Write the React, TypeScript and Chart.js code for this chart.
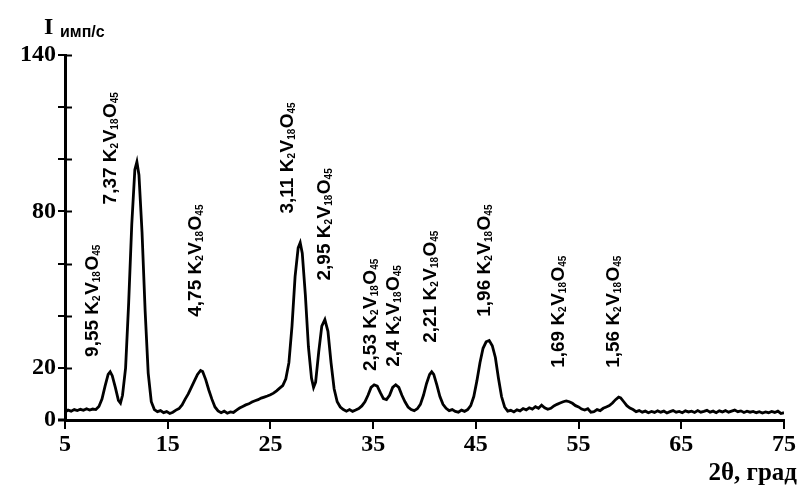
import React, { useEffect, useRef } from "react";
import { Chart, registerables } from "chart.js";

Chart.register(...registerables);

// 2θ, град
const twoTheta: number[] = [
  5.0, 5.3, 5.6, 5.9, 6.2, 6.5, 6.8, 7.1, 7.4, 7.7, 8.0, 8.3, 8.6, 8.9, 9.2, 9.4, 9.6, 9.9, 10.2, 10.4,
  10.6, 10.9, 11.2, 11.5, 11.8, 12.0, 12.2, 12.5, 12.8, 13.1, 13.4, 13.7, 14.0, 14.3, 14.6, 14.9, 15.2, 15.5, 15.8, 16.1,
  16.4, 16.7, 17.0, 17.3, 17.6, 17.9, 18.2, 18.4, 18.7, 19.0, 19.3, 19.6, 19.9, 20.2, 20.5, 20.8, 21.1, 21.4, 21.7, 22.0,
  22.3, 22.6, 22.9, 23.2, 23.5, 23.8, 24.1, 24.4, 24.7, 25.0, 25.3, 25.6, 25.9, 26.2, 26.5, 26.8, 27.1, 27.4, 27.7, 27.9,
  28.1, 28.4, 28.7, 29.0, 29.2, 29.4, 29.7, 30.0, 30.3, 30.6, 30.9, 31.2, 31.5, 31.8, 32.1, 32.4, 32.7, 33.0, 33.3, 33.6,
  33.9, 34.2, 34.5, 34.8, 35.1, 35.4, 35.7, 36.0, 36.3, 36.6, 36.9, 37.2, 37.5, 37.8, 38.1, 38.4, 38.7, 39.0, 39.3, 39.6,
  39.9, 40.2, 40.5, 40.7, 40.9, 41.2, 41.5, 41.8, 42.1, 42.4, 42.7, 43.0, 43.3, 43.6, 43.9, 44.2, 44.5, 44.8, 45.1, 45.4,
  45.7, 46.0, 46.3, 46.6, 46.9, 47.2, 47.5, 47.8, 48.1, 48.4, 48.7, 49.0, 49.3, 49.6, 49.9, 50.2, 50.5, 50.8, 51.1, 51.4,
  51.7, 52.0, 52.3, 52.6, 52.9, 53.2, 53.5, 53.8, 54.1, 54.4, 54.7, 55.0, 55.3, 55.6, 55.9, 56.2, 56.5, 56.8, 57.1, 57.4,
  57.7, 58.0, 58.3, 58.6, 58.9, 59.1, 59.4, 59.7, 60.0, 60.3, 60.6, 60.9, 61.2, 61.5, 61.8, 62.1, 62.4, 62.7, 63.0, 63.3,
  63.6, 63.9, 64.2, 64.5, 64.8, 65.1, 65.4, 65.7, 66.0, 66.3, 66.6, 66.9, 67.2, 67.5, 67.8, 68.1, 68.4, 68.7, 69.0, 69.3,
  69.6, 69.9, 70.2, 70.5, 70.8, 71.1, 71.4, 71.7, 72.0, 72.3, 72.6, 72.9, 73.2, 73.5, 73.8, 74.1, 74.4, 74.7, 75.0,
];

// I, имп/с
const intensity: number[] = [
  3.0, 3.8, 3.4, 4.0, 3.6, 4.1, 3.7, 4.3, 3.8, 4.2, 4.0, 5.2, 8.0, 13.0, 17.5, 18.5, 17.0, 12.5, 7.5, 6.5,
  9.5, 20, 45, 75, 96, 99, 94, 72, 42, 18, 7, 4.0, 3.2, 3.6, 2.8, 3.2, 2.5, 3.0, 3.8, 4.4,
  5.8, 8.0, 10.0, 12.5, 15.0, 17.5, 19.0, 18.6, 15.5, 11.5, 8.0, 5.0, 3.5, 2.8, 3.4, 2.6, 3.1, 2.9, 3.8, 4.6,
  5.2, 5.8, 6.2, 6.9, 7.4, 7.8, 8.4, 8.8, 9.2, 9.7, 10.3, 11.2, 12.2, 13.2, 15.8, 22, 36, 55, 66, 68,
  64, 48, 28, 16, 12.5, 14.5, 26, 36, 38.5, 34, 22, 12, 7, 5, 4, 3.4, 4.0, 3.3, 3.8, 4.4,
  5.4, 7.0, 9.5, 12.5, 13.5, 13.0, 10.5, 8.2, 7.8, 9.5, 12.5, 13.5, 12.5, 9.5, 7.0, 5.0, 4.0, 3.6, 4.3, 6.0,
  9.5, 14.0, 17.5, 18.5, 17.5, 13.5, 9.0, 6.0, 4.5, 3.6, 4.0, 3.3, 3.0, 3.8, 3.3, 4.0, 5.5, 9.0, 15.0, 22.0,
  27.5, 30.0, 30.5, 28.5, 24.0, 16.0, 9.0, 5.0, 3.4, 3.7, 3.1, 3.9, 3.5, 4.4, 3.9, 4.7, 4.2, 5.1, 4.5, 5.7,
  4.7, 4.1, 4.5, 5.4, 6.0, 6.5, 7.0, 7.3, 7.0, 6.4, 5.5, 5.0, 4.2, 3.8, 4.3, 3.0, 3.2, 4.0, 3.6, 4.5,
  5.0, 5.5, 6.5, 7.8, 8.8, 8.5, 7.0, 5.5, 4.6, 4.0, 3.2, 3.6, 3.0, 3.4, 2.8, 3.3, 2.9, 3.5, 3.0, 3.4,
  2.7, 3.2, 3.6, 3.0, 3.3, 2.8, 3.5, 3.1, 3.4, 2.9, 3.6, 3.0, 3.3, 3.7, 3.0, 3.4, 2.8, 3.5, 3.1, 3.6,
  3.0, 3.4, 3.8, 3.2, 3.5, 2.9, 3.4, 3.0, 3.3, 2.8, 3.2, 2.7, 3.1, 2.8, 3.3, 2.9, 3.4, 2.5, 2.8,
];

const xTickValues: number[] = [5, 15, 25, 35, 45, 55, 65, 75];
const yTickValues: number[] = [0, 20, 40, 60, 80, 100, 120, 140];
const yTickLabels: number[] = [0, 20, 80, 140];

// peak annotations: d-spacing, label x (2θ), label start (intensity)
const peakD: string[] = ["9,55", "7,37", "4,75", "3,11", "2,95", "2,53", "2,4", "2,21", "1,96", "1,69", "1,56"];
const peakLabelX: number[] = [7.7, 9.5, 17.7, 26.65, 30.3, 34.8, 37.05, 40.6, 45.9, 53.1, 58.4];
const peakLabelY: number[] = [24.2, 82.7, 39.6, 79.2, 53.5, 18.8, 20.4, 29.6, 39.6, 20, 20];

const SERIF = '"Liberation Serif", "Times New Roman", serif';
const NARROW = '"Liberation Sans Narrow", "Arial Narrow", "Liberation Sans", Arial, sans-serif';
const SANS = '"Liberation Sans", Arial, sans-serif';

const overlayPlugin = {
  id: "overlay",
  afterDraw(chart: any) {
    const ctx = chart.ctx as CanvasRenderingContext2D;
    const xs = chart.scales.x;
    const ys = chart.scales.y;
    const left = chart.chartArea.left;
    const bottom = chart.chartArea.bottom;
    ctx.save();
    ctx.strokeStyle = "#000";
    // inner halves of y ticks
    ctx.lineWidth = 2;
    yTickValues.forEach((v) => {
      const py = Math.round(ys.getPixelForValue(v)) + 0.5;
      if (v === 0) return;
      ctx.beginPath();
      ctx.moveTo(left, py);
      ctx.lineTo(left + 7, py);
      ctx.stroke();
    });
    // x axis extension to the left
    ctx.lineWidth = 3;
    ctx.beginPath();
    ctx.moveTo(left - 7, bottom);
    ctx.lineTo(left, bottom);
    ctx.stroke();

    // axis titles
    ctx.fillStyle = "#000";
    ctx.textBaseline = "alphabetic";
    ctx.textAlign = "left";
    ctx.font = `bold 24px ${SERIF}`;
    ctx.fillText("I", 44, 34);
    ctx.font = `bold 16px ${SANS}`;
    ctx.fillText("имп/с", 60, 37);
    ctx.textAlign = "right";
    ctx.font = `bold 25px ${SERIF}`;
    ctx.fillText("2θ, град", 797, 480);

    // peak labels (rotated)
    const fs = 19;
    const sub = 10;
    peakD.forEach((d, i) => {
      const px = xs.getPixelForValue(peakLabelX[i]);
      const py = ys.getPixelForValue(peakLabelY[i]);
      ctx.save();
      ctx.translate(px, py);
      ctx.rotate(-Math.PI / 2);
      ctx.textAlign = "left";
      ctx.textBaseline = "middle";
      const parts: [string, boolean][] = [
        [d + " K", false],
        ["2", true],
        ["V", false],
        ["18", true],
        ["O", false],
        ["45", true],
      ];
      let cx = 0;
      parts.forEach(([t, isSub]) => {
        ctx.font = isSub ? `bold ${sub}px ${NARROW}` : `bold ${fs}px ${NARROW}`;
        ctx.fillText(t, cx, isSub ? 4.5 : 0);
        cx += ctx.measureText(t).width + (isSub ? 0.5 : 0);
      });
      ctx.restore();
    });
    ctx.restore();
  },
};

export default function App() {
  const ref = useRef<HTMLCanvasElement | null>(null);
  useEffect(() => {
    document.body.style.margin = "0";
    if (!ref.current) return;
    const chart = new Chart(ref.current, {
      type: "line",
      data: {
        datasets: [
          {
            data: twoTheta.map((x, i) => ({ x, y: intensity[i] })),
            borderColor: "#000",
            borderWidth: 2.8,
            pointRadius: 0,
            tension: 0,
            fill: false,
          },
        ],
      },
      options: {
        animation: false,
        responsive: true,
        maintainAspectRatio: false,
        layout: { padding: { top: 55, right: 5, left: 0, bottom: 0 } },
        plugins: { legend: { display: false }, tooltip: { enabled: false }, title: { display: false } },
        scales: {
          x: {
            type: "linear",
            min: 5,
            max: 75,
            position: "bottom",
            afterBuildTicks: (s: any) => {
              s.ticks = xTickValues.map((v) => ({ value: v }));
            },
            afterFit: (s: any) => {
              s.height = 71;
            },
            grid: { display: true, drawOnChartArea: false, drawTicks: true, tickLength: 9, color: "#000", lineWidth: 2 },
            border: { display: true, color: "#000", width: 3 },
            ticks: {
              color: "#000",
              font: { family: SERIF, size: 24, weight: "bold" },
              padding: 1,
              maxRotation: 0,
              autoSkip: false,
              callback: (v: any) => String(v),
            },
          },
          y: {
            type: "linear",
            min: 0,
            max: 140,
            afterBuildTicks: (s: any) => {
              s.ticks = yTickValues.map((v) => ({ value: v }));
            },
            afterFit: (s: any) => {
              s.width = 65;
            },
            grid: { display: true, drawOnChartArea: false, drawTicks: true, tickLength: 7, color: "#000", lineWidth: 2 },
            border: { display: true, color: "#000", width: 3 },
            ticks: {
              color: "#000",
              font: { family: SERIF, size: 24, weight: "bold" },
              padding: 2,
              autoSkip: false,
              callback: (v: any) => (yTickLabels.includes(Number(v)) ? String(v) : ""),
            },
          },
        },
      },
      plugins: [overlayPlugin],
    } as any);
    return () => chart.destroy();
  }, []);
  return (
    <div style={{ width: 797, height: 491, position: "relative", background: "#fff" }}>
      <canvas ref={ref} />
    </div>
  );
}
